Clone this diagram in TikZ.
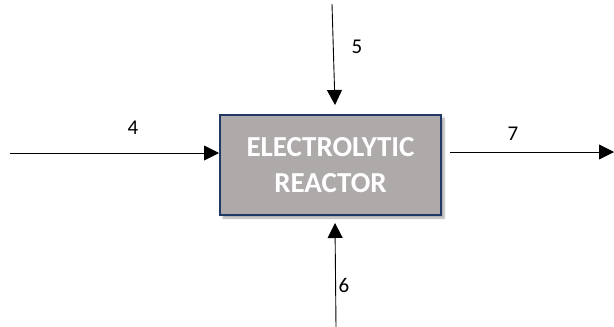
\documentclass[tikz,border=0pt]{standalone}
\usepackage{fontspec}
\setmainfont{Carlito}
\usetikzlibrary{arrows.meta,shadows.blur}
\definecolor{boxfill}{HTML}{AEAAAA}
\definecolor{boxline}{HTML}{1F3864}
\tikzset{
  reactor/.style={draw=boxline, line width=2pt, fill=boxfill, minimum width=221pt, minimum height=100pt,
    align=center, text=white, font=\bfseries\fontsize{29}{36}\selectfont,
    blur shadow={shadow xshift=3pt, shadow yshift=-3pt, shadow blur steps=6, shadow opacity=35}},
  flow/.style={draw=black, line width=0.9pt, -{Triangle[length=15pt,width=15pt]}},
  lab/.style={font=\fontsize{21}{22}\selectfont, text=black, inner sep=0pt}
}
\begin{document}
\begin{tikzpicture}[x=1pt,y=-1pt]
\useasboundingbox (0,0) rectangle (614,327);
\node[reactor] (box) at (330.5,165) {ELECTROLYTIC\\REACTOR};
\coordinate (s4) at (10,153);
\coordinate (e4) at (219,153);
\coordinate (s5) at (332,4);
\coordinate (e5) at (335,105);
\coordinate (s6) at (336,327);
\coordinate (e6) at (335,223);
\coordinate (s7) at (450,152);
\coordinate (e7) at (614,152);
\draw[flow] (s4) -- (e4);
\draw[flow] (s5) -- (e5);
\draw[flow] (s6) -- (e6);
\draw[flow] (s7) -- (e7);
\node[lab] (l4) at (133,128) {4};
\node[lab] (l5) at (357,47) {5};
\node[lab] (l6) at (344,285) {6};
\node[lab] (l7) at (513,134) {7};
\end{tikzpicture}
\end{document}
